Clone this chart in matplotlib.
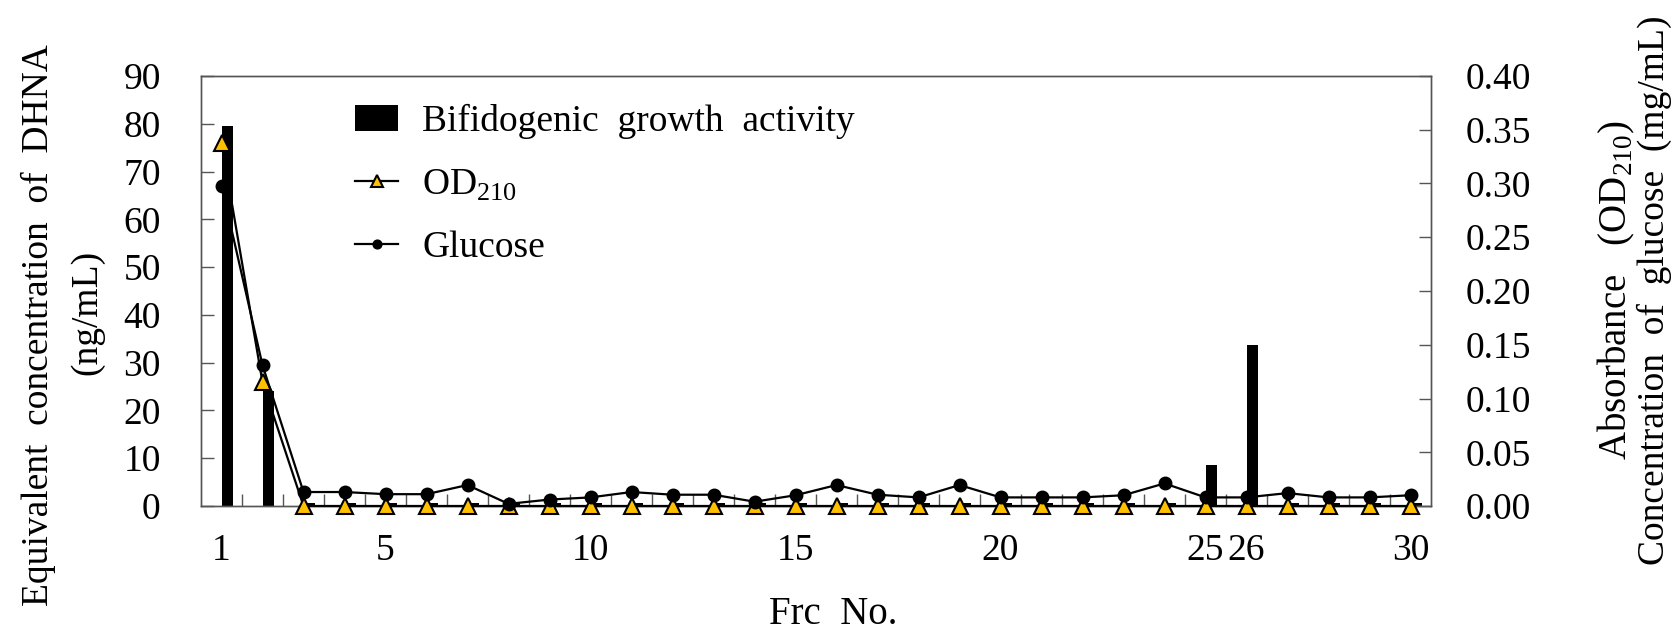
import numpy as np
import matplotlib
matplotlib.use('Agg')
import matplotlib.pyplot as plt

plt.rcParams['font.family'] = 'Liberation Serif'
plt.rcParams['mathtext.fontset'] = 'custom'
plt.rcParams['mathtext.rm'] = 'Liberation Serif'

frc = list(range(1, 31))
bifido = [79.5, 24.0, 0.6, 0.6, 0.6, 0.6, 0.6, 0.6, 0.6, 0.6,
          0.6, 0.6, 0.6, 0.6, 0.6, 0.6, 0.6, 0.6, 0.6, 0.6,
          0.6, 0.6, 0.6, 0.6, 8.6, 33.8, 0.6, 0.6, 0.6, 0.6]
od210 = [0.338, 0.115, 0, 0, 0, 0, 0, 0, 0, 0,
         0, 0, 0, 0, 0, 0, 0, 0, 0, 0,
         0, 0, 0, 0, 0, 0, 0, 0, 0, 0]
glucose = [0.298, 0.131, 0.013, 0.013, 0.011, 0.011, 0.0195, 0.002, 0.006, 0.008,
           0.013, 0.0105, 0.0105, 0.004, 0.010, 0.0195, 0.0105, 0.008, 0.0195, 0.008,
           0.008, 0.008, 0.010, 0.021, 0.008, 0.008, 0.012, 0.008, 0.008, 0.010]
xlabels = ['1', '5', '10', '15', '20', '25', '26', '30']

fig = plt.figure(figsize=(16.75, 6.33), dpi=100)
ax = fig.add_axes([201/1675, 1-506/633, (1431-201)/1675, (506-76)/633])
ax2 = ax.twinx()

bars = ax.bar(frc, bifido, width=0.28, align='edge', color='black',
              label='Bifidogenic  growth  activity', zorder=2)
l1, = ax2.plot(frc, od210, color='black', lw=1.6, marker='^', ms=12,
               mfc='#FFC000', mec='black', mew=1.5, label='OD$_{210}$', clip_on=False, zorder=3)
l2, = ax2.plot(frc, glucose, color='black', lw=1.6, marker='o', ms=9,
               mfc='black', mec='black', label='Glucose', clip_on=False, zorder=4)

ax.set_xlim(0.5, 30.5)
ax.set_ylim(0, 90)
ax2.set_ylim(0, 0.40)
ax.set_yticks(np.arange(0, 91, 10))
ax2.set_yticks(np.arange(0, 0.41, 0.05))
ax2.set_yticklabels(['%.2f' % v for v in np.arange(0, 0.41, 0.05)])

ax.set_xticks([int(s) for s in xlabels])
ax.set_xticklabels(xlabels)
ax.set_xticks(np.arange(1.5, 30, 1), minor=True)
ax.tick_params(axis='x', which='major', length=0, pad=20, labelsize=27)
ax.tick_params(axis='x', which='minor', direction='in', length=8.5, width=1, color='#555555')
ax.tick_params(axis='y', direction='in', length=9, width=1, color='#555555', pad=29, labelsize=27)
ax2.tick_params(axis='y', direction='in', length=9, width=1, color='#555555', pad=25, labelsize=27)

for a in (ax, ax2):
    for s in a.spines.values():
        s.set_color('#555555')
        s.set_linewidth(1)

fig.text(833/1675, 1-615/633, 'Frc  No.', fontsize=28, ha='center', va='center')
fig.text(38/1675, 1-325/633, 'Equivalent  concentration  of  DHNA', rotation=90,
         fontsize=27, ha='center', va='center')
fig.text(87/1675, 1-312/633, '(ng/mL)', rotation=90, fontsize=27, ha='center', va='center')
fig.text(1616/1675, 1-290/633, 'Absorbance   (OD$_{210}$)', rotation=90,
         fontsize=28, ha='center', va='center')
fig.text(1654/1675, 1-290/633, 'Concentration  of  glucose  (mg/mL)', rotation=90,
         fontsize=27, ha='center', va='center')

ax2.legend([bars, l1, l2], [bars.get_label(), l1.get_label(), l2.get_label()],
           loc='upper left', bbox_to_anchor=(0.1252, 0.935), frameon=False,
           borderaxespad=0, borderpad=0,
           fontsize=27, handlelength=1.15, handletextpad=0.64, labelspacing=0.75,
           markerscale=0.7)

plt.savefig('out.png', dpi=100)
